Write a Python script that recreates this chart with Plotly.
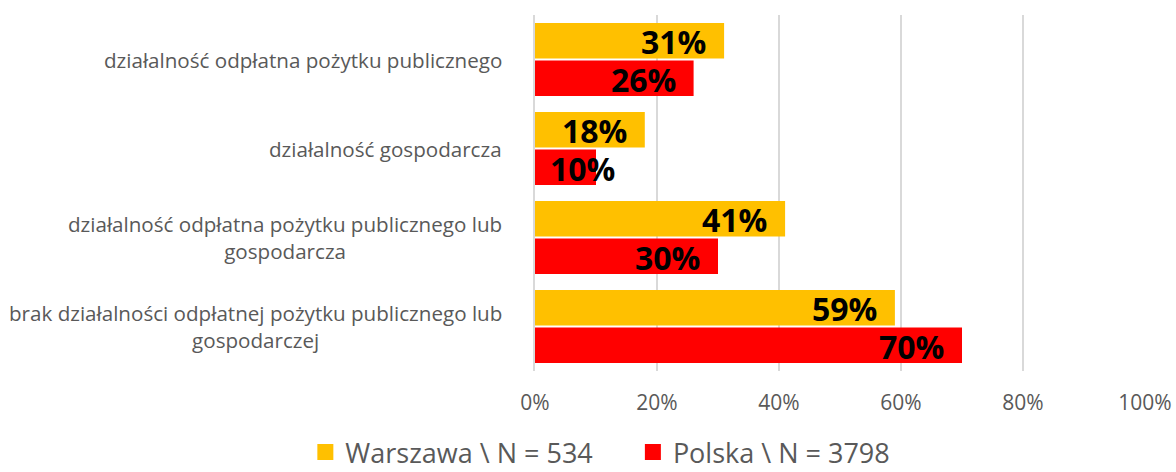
import plotly.graph_objects as go

categories = [
    "działalność odpłatna pożytku publicznego",
    "działalność gospodarcza",
    "działalność odpłatna pożytku publicznego lub<br>gospodarcza",
    "brak działalności odpłatnej pożytku publicznego lub<br>gospodarczej",
]
warszawa = [31, 18, 41, 59]
polska = [26, 10, 30, 70]
series_names = ["Warszawa \\ N = 534", "Polska \\ N = 3798"]
colors = ["#FFC000", "#FF0000"]
tick_vals = [0, 20, 40, 60, 80, 100]
tick_text = ["0%", "20%", "40%", "60%", "80%", "100%"]

FONT = "Open Sans"
fig = go.Figure()
for i, (name, vals, col) in enumerate(zip(series_names, [warszawa, polska], colors)):
    fig.add_trace(go.Bar(
        y=categories, x=vals, orientation="h", name=name,
        marker=dict(color=col, line=dict(width=0)),
        showlegend=False, hoverinfo="skip",
    ))
    legend_label = name + ("\u00a0" * 5 if i == 0 else "")
    fig.add_trace(go.Scatter(
        x=[None], y=[None], mode="markers", name=legend_label,
        marker=dict(symbol="square", size=18, color=col),
    ))

# value labels (inside end of each bar)
for si, vals in enumerate([warszawa, polska]):
    for cat, v in zip(categories, vals):
        fits = v >= 15
        fig.add_annotation(
            x=v, y=cat, xref="x", yref="y", text=f"<b>{v}%</b>", showarrow=False,
            xanchor="right" if fits else "center",
            xshift=-16 if fits else -14,
            yshift=18 if si == 0 else -20,
            font=dict(family=FONT, size=32, color="black"),
        )

for c in categories:
    fig.add_annotation(
        x=0, xref="paper", y=c, yref="y", text=c, showarrow=False,
        xanchor="right", xshift=-31, align="center",
        font=dict(family=FONT, size=20.6, color="#595959"),
    )

fig.update_layout(
    width=1176, height=472,
    margin=dict(l=535, r=31, t=15, b=101, autoexpand=False),
    paper_bgcolor="white", plot_bgcolor="white",
    barmode="group", bargap=0.16, bargroupgap=0.05,
    font=dict(family=FONT, color="#595959"),
    legend=dict(orientation="h", x=0.5105, xanchor="center", xref="container",
                y=-0.229, yanchor="middle", yref="paper",
                font=dict(family=FONT, size=27, color="#595959"),
                itemsizing="trace", itemwidth=30, tracegroupgap=0),
    xaxis=dict(range=[0, 100], tickvals=tick_vals, ticktext=tick_text,
               showgrid=True, gridcolor="#D9D9D9", gridwidth=1.5,
               zeroline=False, showline=False, automargin=False,
               tickfont=dict(family=FONT, size=21, color="#595959"),
               ticklabelstandoff=17, ticks=""),
    yaxis=dict(autorange="reversed", showticklabels=False, showgrid=False,
               showline=True, linecolor="#D9D9D9", linewidth=1.5, ticks="",
               automargin=False),
)
fig.write_html("out.html", config={"displayModeBar": False},
               post_script="document.body.style.margin='0';")
